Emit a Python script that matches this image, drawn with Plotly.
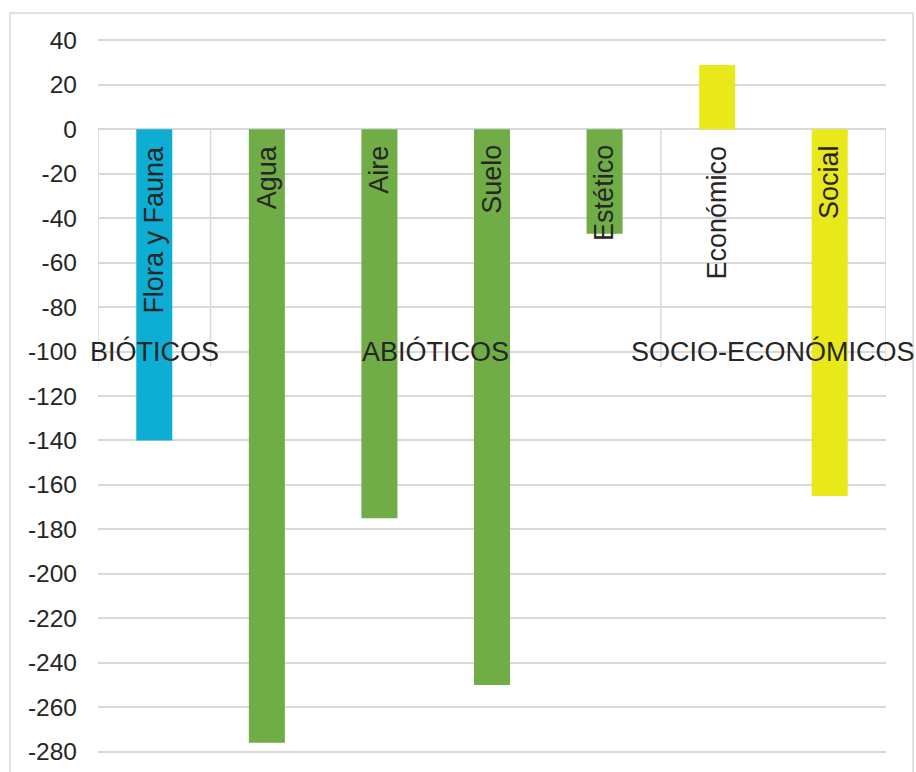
import plotly.graph_objects as go

categories = ["Flora y Fauna", "Agua", "Aire", "Suelo", "Estético", "Económico", "Social"]
values = [-140, -276, -175, -250, -47, 29, -165]
bar_colors = ["#0EADD4", "#70AD47", "#70AD47", "#70AD47", "#70AD47", "#E9E81B", "#E9E81B"]
groups = ["BIÓTICOS", "ABIÓTICOS", "SOCIO-ECONÓMICOS"]
group_centers = [0, 2.5, 5.5]
group_bounds = [-0.5, 0.5, 4.5, 6.5]
tick_vals = list(range(-280, 41, 20))
tick_text = [str(v) for v in tick_vals]

FONT = "Liberation Sans, Arial, sans-serif"
TXT = "#262626"
GRID = "#D9D9D9"

fig = go.Figure()
fig.add_trace(go.Bar(x=categories, y=values, marker=dict(color=bar_colors, line=dict(width=0)),
                     hoverinfo="skip"))

annotations = []
for c in categories:
    annotations.append(dict(x=c, y=0, xref="x", yref="y", text=c, textangle=-90,
                            showarrow=False, xanchor="center", yanchor="top", yshift=-14,
                            font=dict(family=FONT, size=27, color=TXT)))
for g, xc in zip(groups, group_centers):
    annotations.append(dict(x=xc, y=-100, xref="x", yref="y", text=g, showarrow=False,
                            xanchor="center", yanchor="middle",
                            font=dict(family=FONT, size=27, color=TXT)))

shapes = []
for xb in group_bounds:
    shapes.append(dict(type="line", xref="x", yref="y", x0=xb, x1=xb, y0=0, y1=-107,
                       line=dict(color=GRID, width=1.5), layer="below"))
shapes.append(dict(type="rect", xref="paper", yref="paper", x0=-0.1117, x1=1.0343,
                   y0=-0.2, y1=1.0319, line=dict(color=GRID, width=1.5), layer="below"))

fig.update_layout(
    width=916, height=772,
    margin=dict(l=98, r=30, t=36, b=16, autoexpand=False),
    paper_bgcolor="white", plot_bgcolor="white",
    bargap=0.68, showlegend=False,
    annotations=annotations, shapes=shapes,
    xaxis=dict(type="category", showticklabels=False, showgrid=False, zeroline=False,
               showline=False, ticks="", range=[-0.5, 6.5], automargin=False),
    yaxis=dict(range=[-282, 42], tickvals=tick_vals, ticktext=tick_text, showgrid=True,
               gridcolor=GRID, gridwidth=1.5, zeroline=True, zerolinecolor=GRID,
               zerolinewidth=1.5, showline=False, ticks="", ticklabelstandoff=20,
               automargin=False,
               tickfont=dict(family=FONT, size=24.5, color=TXT)),
)

fig.write_html("out.html")
